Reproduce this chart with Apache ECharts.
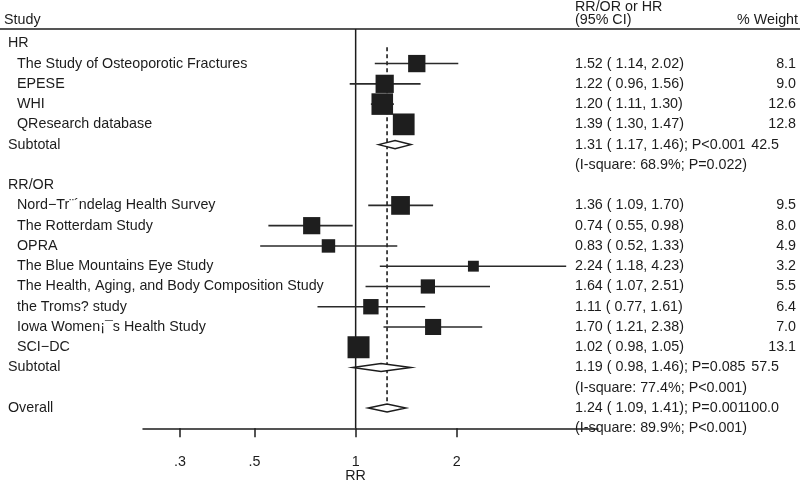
<!DOCTYPE html>
<html>
<head>
<meta charset="utf-8">
<script src="https://cdn.jsdelivr.net/npm/echarts@6/dist/echarts.min.js"></script>
<style>html,body{margin:0;padding:0;background:#fff}#c{width:800px;height:483px}</style>
</head>
<body>
<div id="c"></div>
<script>
// ---- data ----
const studyNames = ["The Study of Osteoporotic Fractures", "EPESE", "WHI", "QResearch database",
  "Nord\u2212Tr\u00a8\u00b4ndelag Health Survey", "The Rotterdam Study", "OPRA", "The Blue Mountains Eye Study",
  "The Health, Aging, and Body Composition Study", "the Troms? study", "Iowa Women\u00a1\u00afs Health Study", "SCI\u2212DC"];
const studyRows = [1, 2, 3, 4, 8, 9, 10, 11, 12, 13, 14, 15];
const studyEst = [1.52, 1.22, 1.20, 1.39, 1.36, 0.74, 0.83, 2.24, 1.64, 1.11, 1.70, 1.02];
const studyLo = [1.14, 0.96, 1.11, 1.30, 1.09, 0.55, 0.52, 1.18, 1.07, 0.77, 1.21, 0.98];
const studyHi = [2.02, 1.56, 1.30, 1.47, 1.70, 0.98, 1.33, 4.23, 2.51, 1.61, 2.38, 1.05];
const studyWeight = [8.1, 9.0, 12.6, 12.8, 9.5, 8.0, 4.9, 3.2, 5.5, 6.4, 7.0, 13.1];

const groupLabels = ["HR", "RR/OR"];
const groupRows = [0, 7];

const poolLabels = ["Subtotal", "Subtotal", "Overall"];
const poolRows = [5, 16, 18];
const poolEst = [1.31, 1.19, 1.24];
const poolLo = [1.17, 0.98, 1.09];
const poolHi = [1.46, 1.46, 1.41];
const poolP = ["P<0.001", "P=0.085", "P=0.001"];
const poolWeight = ["42.5", "57.5", "100.0"];
const hetText = ["(I-square: 68.9%; P=0.022)", "(I-square: 77.4%; P<0.001)", "(I-square: 89.9%; P<0.001)"];
const hetRows = [6, 17, 19];

const tickValues = [0.3, 0.5, 1, 2];
const overallEst = 1.24;

// ---- layout ----
const FONT = '"Liberation Sans", Arial, Helvetica, sans-serif';
const FS = 14.3;
const INK = '#1c1c1c';
const X_GROUP = 8, X_STUDY = 17, X_CI = 575, X_W = 796, X_PW = 779;
const ROW_TOP = -0.706, ROW_BOTTOM = 19;

const chart = echarts.init(document.getElementById('c'), null, {renderer: 'canvas'});

const studyData = studyRows.map((r, i) => [studyLo[i], studyHi[i], studyEst[i], r, studyWeight[i]]);
const poolData = poolRows.map((r, i) => [poolLo[i], poolHi[i], poolEst[i], r]);

// text rows: [row, kind, index]
const textData = [];
groupRows.forEach((r, i) => textData.push([r, 0, i]));
studyRows.forEach((r, i) => textData.push([r, 1, i]));
poolRows.forEach((r, i) => textData.push([r, 2, i]));
hetRows.forEach((r, i) => textData.push([r, 3, i]));

function txt(x, y, s, align) {
  return {type: 'text', x: x, y: y, style: {text: s, fill: INK, font: FS + 'px ' + FONT, align: align || 'left', verticalAlign: 'middle'}};
}

const option = {
  animation: false,
  backgroundColor: '#fff',
  grid: {left: 143, right: 202, top: 29, bottom: 54.7, containLabel: false},
  xAxis: {
    type: 'log', logBase: 10, min: 0.233, max: 5.26, position: 'bottom',
    axisLine: {show: true, onZero: false, lineStyle: {color: INK, width: 1.5}},
    axisTick: {show: true, customValues: tickValues, length: 9, lineStyle: {color: INK, width: 1.5}},
    axisLabel: {show: true, customValues: tickValues, margin: 27, color: INK, fontSize: FS, fontFamily: FONT,
      formatter: v => String(+v.toFixed(2)).replace(/^0\./, '.')},
    splitLine: {show: false}, minorTick: {show: false}
  },
  yAxis: {type: 'value', inverse: true, min: ROW_TOP, max: ROW_BOTTOM, show: false},
  graphic: [
    {type: 'line', shape: {x1: 0, y1: 29, x2: 800, y2: 29}, style: {stroke: INK, lineWidth: 1.5}},
    txt(4, 20, 'Study'),
    txt(X_CI, 7.5, 'RR/OR or HR'),
    txt(X_CI, 20, '(95% CI)'),
    txt(798, 20, '% Weight', 'right'),
    txt(355.6, 476.5, 'RR', 'center')
  ],
  series: [
    {type: 'line', data: [[1, ROW_TOP], [1, ROW_BOTTOM]], symbol: 'none', z: 1,
      lineStyle: {color: INK, width: 1.5}, silent: true},
    {type: 'line', data: [[overallEst, 0.2], [overallEst, poolRows[2]]], symbol: 'none', z: 1,
      lineStyle: {color: INK, width: 1.6, type: [4, 3]}, silent: true},
    {type: 'custom', z: 3, data: studyData, encode: {x: [0, 1, 2], y: 3},
      renderItem: function (params, api) {
        const a = api.coord([api.value(0), api.value(3)]);
        const b = api.coord([api.value(1), api.value(3)]);
        const c = api.coord([api.value(2), api.value(3)]);
        const s = 6.08 * Math.sqrt(api.value(4));
        return {type: 'group', children: [
          {type: 'line', shape: {x1: a[0], y1: a[1], x2: b[0], y2: b[1]}, style: {stroke: '#2a2a2a', lineWidth: 1.6}},
          {type: 'rect', shape: {x: c[0] - s / 2, y: c[1] - s / 2, width: s, height: s}, style: {fill: '#1e1e1e'}}
        ]};
      }},
    {type: 'custom', z: 3, data: poolData, encode: {x: [0, 1, 2], y: 3},
      renderItem: function (params, api) {
        const a = api.coord([api.value(0), api.value(3)]);
        const b = api.coord([api.value(1), api.value(3)]);
        const c = api.coord([api.value(2), api.value(3)]);
        const h = 4;
        return {type: 'polygon', shape: {points: [[a[0], a[1]], [c[0], c[1] - h], [b[0], b[1]], [c[0], c[1] + h]]},
          style: {fill: '#fff', stroke: INK, lineWidth: 1.5}};
      }},
    {type: 'custom', z: 4, clip: false, data: textData, encode: {y: 0},
      renderItem: function (params, api) {
        const row = api.value(0), kind = api.value(1), i = api.value(2);
        const y = api.coord([1, row])[1];
        if (kind === 0) return txt(X_GROUP, y, groupLabels[i]);
        if (kind === 1) {
          const ci = studyEst[i].toFixed(2) + ' ( ' + studyLo[i].toFixed(2) + ', ' + studyHi[i].toFixed(2) + ')';
          return {type: 'group', children: [
            txt(X_STUDY, y, studyNames[i]), txt(X_CI, y, ci), txt(X_W, y, studyWeight[i].toFixed(1), 'right')]};
        }
        if (kind === 2) {
          const ci = poolEst[i].toFixed(2) + ' ( ' + poolLo[i].toFixed(2) + ', ' + poolHi[i].toFixed(2) + '); ' + poolP[i];
          return {type: 'group', children: [
            txt(X_GROUP, y, poolLabels[i]), txt(X_CI, y, ci), txt(X_PW, y, poolWeight[i], 'right')]};
        }
        return txt(X_CI, y, hetText[i]);
      }}
  ]
};
chart.setOption(option);
</script>
</body>
</html>
